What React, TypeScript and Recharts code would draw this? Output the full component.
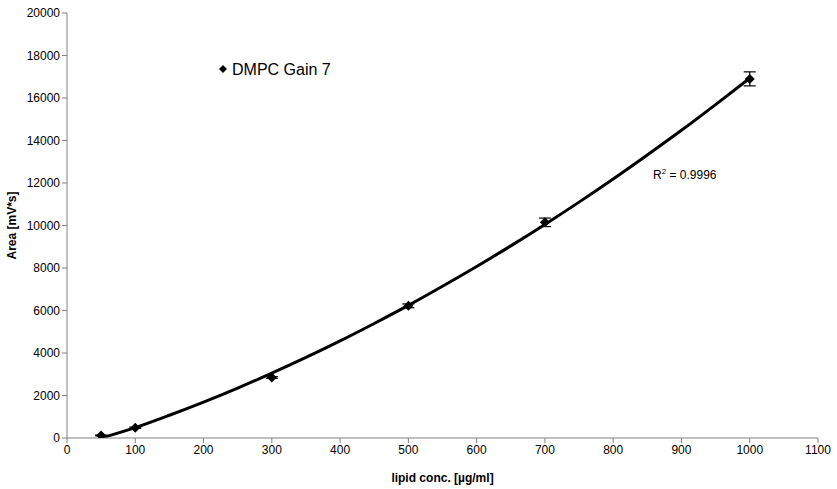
import React from 'react';
import { ComposedChart, Line, Scatter, XAxis, YAxis, ErrorBar, Customized } from 'recharts';

const concentrations = [50, 100, 300, 500, 700, 1000];
const areas = [120, 480, 2850, 6220, 10150, 16900];
const errors = [20, 30, 40, 90, 200, 330];

const curveX = [50, 100, 150, 200, 250, 300, 350, 400, 450, 500, 550, 600, 650, 700, 750, 800, 850, 900, 950, 1000];
const curveY = [0, 490, 1070, 1690, 2350, 3050, 3790, 4570, 5390, 6240, 7140, 8070, 9040, 10050, 11100, 12190, 13320, 14480, 15690, 16930];

const xTicks = [0, 100, 200, 300, 400, 500, 600, 700, 800, 900, 1000, 1100];
const yTicks = [0, 2000, 4000, 6000, 8000, 10000, 12000, 14000, 16000, 18000, 20000];

const legendLabel = 'DMPC Gain 7';
const r2Label = '0.9996';

const pointData = concentrations.map((c, i) => ({ x: c, y: areas[i], err: errors[i] }));
const curveData = curveX.map((c, i) => ({ x: c, fit: curveY[i] }));

const FONT = '"Liberation Sans", Arial, sans-serif';

const Diamond = (props: any) => {
  const { cx, cy } = props;
  const s = 5;
  return <polygon points={`${cx},${cy - s} ${cx + s},${cy} ${cx},${cy + s} ${cx - s},${cy}`} fill="#000" />;
};

const Annotations = () => (
  <g fontFamily={FONT}>
    <polygon points="223,65 227,69 223,73 219,69" fill="#000" />
    <text x={232} y={75} fontSize={16} fill="#000">{legendLabel}</text>
    <text x={653} y={179} fontSize={12} fill="#000">
      R<tspan dy={-5} fontSize={8}>2</tspan><tspan dy={5}>{` = ${r2Label}`}</tspan>
    </text>
  </g>
);

export default function App() {
  return (
    <div style={{ position: 'absolute', left: 0, top: 0, background: '#fff' }}>
      <ComposedChart width={837} height={489} margin={{ top: 13, right: 19, left: 0, bottom: 0 }}>
        <XAxis
          type="number"
          dataKey="x"
          domain={[0, 1100]}
          ticks={xTicks}
          interval={0}
          height={51}
          stroke="#808080"
          tickLine={{ stroke: '#808080' }}
          tickSize={5}
          tick={{ fill: '#000', fontSize: 12, fontFamily: FONT }}
          label={{ value: 'lipid conc. [µg/ml]', position: 'insideBottom', offset: 7, fill: '#000', fontSize: 12, fontWeight: 'bold', fontFamily: FONT }}
          allowDataOverflow
        />
        <YAxis
          type="number"
          domain={[0, 20000]}
          ticks={yTicks}
          interval={0}
          width={67}
          stroke="#808080"
          tickLine={{ stroke: '#808080' }}
          tickSize={5}
          tick={{ fill: '#000', fontSize: 12, fontFamily: FONT }}
          label={{ value: 'Area [mV*s]', angle: -90, position: 'insideLeft', offset: 12, style: { textAnchor: 'middle' }, fill: '#000', fontSize: 12, fontWeight: 'bold', fontFamily: FONT }}
          allowDataOverflow
        />
        <Line
          data={curveData}
          dataKey="fit"
          type="monotone"
          stroke="#000"
          strokeWidth={3}
          dot={false}
          activeDot={false}
          isAnimationActive={false}
        />
        <Scatter data={pointData} dataKey="y" shape={<Diamond />} isAnimationActive={false}>
          <ErrorBar dataKey="err" direction="y" width={6} stroke="#000" strokeWidth={1.2} />
        </Scatter>
        <Customized component={Annotations} />
      </ComposedChart>
    </div>
  );
}
